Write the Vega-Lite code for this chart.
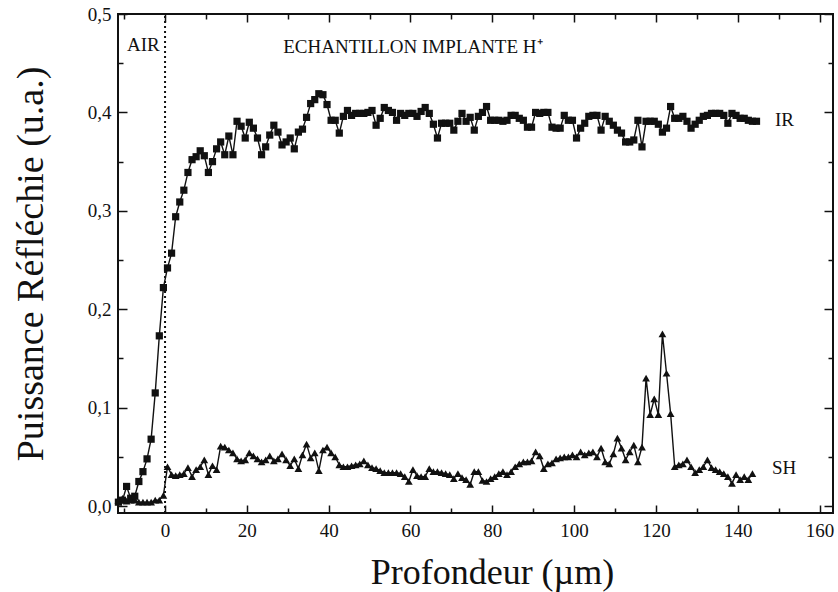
{
  "$schema": "https://vega.github.io/schema/vega-lite/v6.json",
  "width": 715,
  "height": 499,
  "autosize": "none",
  "padding": {"left": 118, "top": 14, "right": 5, "bottom": 79},
  "background": "white",
  "config": {
    "view": {"stroke": "#111", "strokeWidth": 2},
    "font": "'Liberation Serif', 'Times New Roman', Times, serif",
    "axis": {"grid": false, "domain": false, "tickColor": "#111", "tickWidth": 1.5, "labelColor": "#111", "titleColor": "#111", "labelFont": "'Liberation Serif', 'Times New Roman', Times, serif", "titleFont": "'Liberation Serif', 'Times New Roman', Times, serif", "titleFontWeight": "normal"}
  },
  "datasets": {
    "notes": [
      {"t": "AIR", "x": -9.3, "y": 0.469},
      {"t": "ECHANTILLON IMPLANTE H⁺", "x": 28.9, "y": 0.466},
      {"t": "IR", "x": 149.1, "y": 0.392},
      {"t": "SH", "x": 148.4, "y": 0.039}
    ],
    "sep": [{"x": 0, "ylo": -0.007, "yhi": 0.5}],
    "pts": [
      {"s":"IR","x":-11.4,"y":0.004},{"s":"IR","x":-10.4,"y":0.006},{"s":"IR","x":-9.4,"y":0.020},{"s":"IR","x":-8.4,"y":0.008},{"s":"IR","x":-7.4,"y":0.010},{"s":"IR","x":-6.4,"y":0.025},{"s":"IR","x":-5.4,"y":0.035},{"s":"IR","x":-4.4,"y":0.048},{"s":"IR","x":-3.4,"y":0.068},{"s":"IR","x":-2.4,"y":0.115},{"s":"IR","x":-1.4,"y":0.173},{"s":"IR","x":-0.4,"y":0.222},{"s":"IR","x":0.6,"y":0.242},{"s":"IR","x":1.6,"y":0.257},{"s":"IR","x":2.6,"y":0.294},{"s":"IR","x":3.6,"y":0.309},{"s":"IR","x":4.6,"y":0.321},{"s":"IR","x":5.6,"y":0.339},{"s":"IR","x":6.6,"y":0.352},{"s":"IR","x":7.6,"y":0.355},{"s":"IR","x":8.6,"y":0.361},{"s":"IR","x":9.6,"y":0.356},{"s":"IR","x":10.6,"y":0.339},{"s":"IR","x":11.6,"y":0.350},{"s":"IR","x":12.6,"y":0.363},{"s":"IR","x":13.6,"y":0.370},{"s":"IR","x":14.6,"y":0.357},{"s":"IR","x":15.6,"y":0.376},{"s":"IR","x":16.6,"y":0.357},{"s":"IR","x":17.6,"y":0.391},{"s":"IR","x":18.6,"y":0.386},{"s":"IR","x":19.6,"y":0.374},{"s":"IR","x":20.6,"y":0.390},{"s":"IR","x":21.6,"y":0.384},{"s":"IR","x":22.6,"y":0.374},{"s":"IR","x":23.6,"y":0.357},{"s":"IR","x":24.6,"y":0.365},{"s":"IR","x":25.6,"y":0.377},{"s":"IR","x":26.6,"y":0.387},{"s":"IR","x":27.6,"y":0.380},{"s":"IR","x":28.6,"y":0.367},{"s":"IR","x":29.6,"y":0.370},{"s":"IR","x":30.6,"y":0.374},{"s":"IR","x":31.6,"y":0.363},{"s":"IR","x":32.6,"y":0.380},{"s":"IR","x":33.6,"y":0.383},{"s":"IR","x":34.6,"y":0.395},{"s":"IR","x":35.6,"y":0.409},{"s":"IR","x":36.6,"y":0.413},{"s":"IR","x":37.6,"y":0.419},{"s":"IR","x":38.6,"y":0.418},{"s":"IR","x":39.6,"y":0.408},{"s":"IR","x":40.6,"y":0.392},{"s":"IR","x":41.6,"y":0.392},{"s":"IR","x":42.6,"y":0.379},{"s":"IR","x":43.6,"y":0.396},{"s":"IR","x":44.6,"y":0.402},{"s":"IR","x":45.6,"y":0.397},{"s":"IR","x":46.6,"y":0.399},{"s":"IR","x":47.6,"y":0.399},{"s":"IR","x":48.6,"y":0.399},{"s":"IR","x":49.6,"y":0.400},{"s":"IR","x":50.6,"y":0.402},{"s":"IR","x":51.6,"y":0.387},{"s":"IR","x":52.6,"y":0.394},{"s":"IR","x":53.6,"y":0.405},{"s":"IR","x":54.6,"y":0.402},{"s":"IR","x":55.6,"y":0.400},{"s":"IR","x":56.6,"y":0.392},{"s":"IR","x":57.6,"y":0.399},{"s":"IR","x":58.6,"y":0.397},{"s":"IR","x":59.6,"y":0.399},{"s":"IR","x":60.6,"y":0.399},{"s":"IR","x":61.6,"y":0.396},{"s":"IR","x":62.6,"y":0.401},{"s":"IR","x":63.6,"y":0.405},{"s":"IR","x":64.6,"y":0.399},{"s":"IR","x":65.6,"y":0.388},{"s":"IR","x":66.6,"y":0.374},{"s":"IR","x":67.6,"y":0.389},{"s":"IR","x":68.6,"y":0.389},{"s":"IR","x":69.6,"y":0.389},{"s":"IR","x":70.6,"y":0.382},{"s":"IR","x":71.6,"y":0.391},{"s":"IR","x":72.6,"y":0.399},{"s":"IR","x":73.6,"y":0.391},{"s":"IR","x":74.6,"y":0.395},{"s":"IR","x":75.6,"y":0.382},{"s":"IR","x":76.6,"y":0.396},{"s":"IR","x":77.6,"y":0.400},{"s":"IR","x":78.6,"y":0.406},{"s":"IR","x":79.6,"y":0.392},{"s":"IR","x":80.6,"y":0.392},{"s":"IR","x":81.6,"y":0.392},{"s":"IR","x":82.6,"y":0.391},{"s":"IR","x":83.6,"y":0.392},{"s":"IR","x":84.6,"y":0.397},{"s":"IR","x":85.6,"y":0.397},{"s":"IR","x":86.6,"y":0.394},{"s":"IR","x":87.6,"y":0.392},{"s":"IR","x":88.6,"y":0.385},{"s":"IR","x":89.6,"y":0.385},{"s":"IR","x":90.6,"y":0.400},{"s":"IR","x":91.6,"y":0.399},{"s":"IR","x":92.6,"y":0.400},{"s":"IR","x":93.6,"y":0.400},{"s":"IR","x":94.6,"y":0.385},{"s":"IR","x":95.6,"y":0.384},{"s":"IR","x":96.6,"y":0.384},{"s":"IR","x":97.6,"y":0.397},{"s":"IR","x":98.6,"y":0.392},{"s":"IR","x":99.6,"y":0.392},{"s":"IR","x":100.6,"y":0.374},{"s":"IR","x":101.6,"y":0.384},{"s":"IR","x":102.6,"y":0.389},{"s":"IR","x":103.6,"y":0.396},{"s":"IR","x":104.6,"y":0.397},{"s":"IR","x":105.6,"y":0.397},{"s":"IR","x":106.6,"y":0.382},{"s":"IR","x":107.6,"y":0.396},{"s":"IR","x":108.6,"y":0.391},{"s":"IR","x":109.6,"y":0.387},{"s":"IR","x":110.6,"y":0.382},{"s":"IR","x":111.6,"y":0.379},{"s":"IR","x":112.6,"y":0.370},{"s":"IR","x":113.6,"y":0.370},{"s":"IR","x":114.6,"y":0.372},{"s":"IR","x":115.6,"y":0.392},{"s":"IR","x":116.6,"y":0.365},{"s":"IR","x":117.6,"y":0.391},{"s":"IR","x":118.6,"y":0.391},{"s":"IR","x":119.6,"y":0.391},{"s":"IR","x":120.6,"y":0.388},{"s":"IR","x":121.6,"y":0.380},{"s":"IR","x":122.6,"y":0.384},{"s":"IR","x":123.6,"y":0.406},{"s":"IR","x":124.6,"y":0.394},{"s":"IR","x":125.6,"y":0.394},{"s":"IR","x":126.6,"y":0.396},{"s":"IR","x":127.6,"y":0.391},{"s":"IR","x":128.6,"y":0.384},{"s":"IR","x":129.6,"y":0.388},{"s":"IR","x":130.6,"y":0.392},{"s":"IR","x":131.6,"y":0.396},{"s":"IR","x":132.6,"y":0.397},{"s":"IR","x":133.6,"y":0.399},{"s":"IR","x":134.6,"y":0.399},{"s":"IR","x":135.6,"y":0.399},{"s":"IR","x":136.6,"y":0.397},{"s":"IR","x":137.6,"y":0.389},{"s":"IR","x":138.6,"y":0.399},{"s":"IR","x":139.6,"y":0.397},{"s":"IR","x":140.6,"y":0.394},{"s":"IR","x":141.6,"y":0.394},{"s":"IR","x":142.6,"y":0.392},{"s":"IR","x":143.6,"y":0.391},{"s":"IR","x":144.6,"y":0.391},
      {"s":"SH","x":-11.4,"y":0.006},{"s":"SH","x":-10.4,"y":0.008},{"s":"SH","x":-9.4,"y":0.005},{"s":"SH","x":-8.4,"y":0.006},{"s":"SH","x":-7.4,"y":0.006},{"s":"SH","x":-6.4,"y":0.004},{"s":"SH","x":-5.4,"y":0.004},{"s":"SH","x":-4.4,"y":0.004},{"s":"SH","x":-3.4,"y":0.004},{"s":"SH","x":-2.4,"y":0.006},{"s":"SH","x":-1.4,"y":0.006},{"s":"SH","x":-0.4,"y":0.011},{"s":"SH","x":0.6,"y":0.040},{"s":"SH","x":1.6,"y":0.032},{"s":"SH","x":2.6,"y":0.031},{"s":"SH","x":3.6,"y":0.032},{"s":"SH","x":4.6,"y":0.033},{"s":"SH","x":5.6,"y":0.039},{"s":"SH","x":6.6,"y":0.030},{"s":"SH","x":7.6,"y":0.037},{"s":"SH","x":8.6,"y":0.040},{"s":"SH","x":9.6,"y":0.047},{"s":"SH","x":10.6,"y":0.032},{"s":"SH","x":11.6,"y":0.041},{"s":"SH","x":12.6,"y":0.037},{"s":"SH","x":13.6,"y":0.061},{"s":"SH","x":14.6,"y":0.060},{"s":"SH","x":15.6,"y":0.057},{"s":"SH","x":16.6,"y":0.054},{"s":"SH","x":17.6,"y":0.048},{"s":"SH","x":18.6,"y":0.046},{"s":"SH","x":19.6,"y":0.047},{"s":"SH","x":20.6,"y":0.054},{"s":"SH","x":21.6,"y":0.051},{"s":"SH","x":22.6,"y":0.048},{"s":"SH","x":23.6,"y":0.045},{"s":"SH","x":24.6,"y":0.047},{"s":"SH","x":25.6,"y":0.051},{"s":"SH","x":26.6,"y":0.046},{"s":"SH","x":27.6,"y":0.048},{"s":"SH","x":28.6,"y":0.053},{"s":"SH","x":29.6,"y":0.047},{"s":"SH","x":30.6,"y":0.041},{"s":"SH","x":31.6,"y":0.048},{"s":"SH","x":32.6,"y":0.038},{"s":"SH","x":33.6,"y":0.052},{"s":"SH","x":34.6,"y":0.063},{"s":"SH","x":35.6,"y":0.049},{"s":"SH","x":36.6,"y":0.054},{"s":"SH","x":37.6,"y":0.036},{"s":"SH","x":38.6,"y":0.057},{"s":"SH","x":39.6,"y":0.060},{"s":"SH","x":40.6,"y":0.054},{"s":"SH","x":41.6,"y":0.050},{"s":"SH","x":42.6,"y":0.042},{"s":"SH","x":43.6,"y":0.040},{"s":"SH","x":44.6,"y":0.040},{"s":"SH","x":45.6,"y":0.041},{"s":"SH","x":46.6,"y":0.042},{"s":"SH","x":47.6,"y":0.043},{"s":"SH","x":48.6,"y":0.046},{"s":"SH","x":49.6,"y":0.042},{"s":"SH","x":50.6,"y":0.039},{"s":"SH","x":51.6,"y":0.038},{"s":"SH","x":52.6,"y":0.036},{"s":"SH","x":53.6,"y":0.034},{"s":"SH","x":54.6,"y":0.034},{"s":"SH","x":55.6,"y":0.034},{"s":"SH","x":56.6,"y":0.034},{"s":"SH","x":57.6,"y":0.033},{"s":"SH","x":58.6,"y":0.030},{"s":"SH","x":59.6,"y":0.025},{"s":"SH","x":60.6,"y":0.037},{"s":"SH","x":61.6,"y":0.031},{"s":"SH","x":62.6,"y":0.030},{"s":"SH","x":63.6,"y":0.030},{"s":"SH","x":64.6,"y":0.038},{"s":"SH","x":65.6,"y":0.035},{"s":"SH","x":66.6,"y":0.035},{"s":"SH","x":67.6,"y":0.034},{"s":"SH","x":68.6,"y":0.033},{"s":"SH","x":69.6,"y":0.032},{"s":"SH","x":70.6,"y":0.028},{"s":"SH","x":71.6,"y":0.033},{"s":"SH","x":72.6,"y":0.029},{"s":"SH","x":73.6,"y":0.027},{"s":"SH","x":74.6,"y":0.022},{"s":"SH","x":75.6,"y":0.035},{"s":"SH","x":76.6,"y":0.035},{"s":"SH","x":77.6,"y":0.026},{"s":"SH","x":78.6,"y":0.025},{"s":"SH","x":79.6,"y":0.028},{"s":"SH","x":80.6,"y":0.030},{"s":"SH","x":81.6,"y":0.033},{"s":"SH","x":82.6,"y":0.035},{"s":"SH","x":83.6,"y":0.032},{"s":"SH","x":84.6,"y":0.035},{"s":"SH","x":85.6,"y":0.040},{"s":"SH","x":86.6,"y":0.043},{"s":"SH","x":87.6,"y":0.045},{"s":"SH","x":88.6,"y":0.045},{"s":"SH","x":89.6,"y":0.046},{"s":"SH","x":90.6,"y":0.055},{"s":"SH","x":91.6,"y":0.051},{"s":"SH","x":92.6,"y":0.038},{"s":"SH","x":93.6,"y":0.043},{"s":"SH","x":94.6,"y":0.044},{"s":"SH","x":95.6,"y":0.048},{"s":"SH","x":96.6,"y":0.049},{"s":"SH","x":97.6,"y":0.050},{"s":"SH","x":98.6,"y":0.050},{"s":"SH","x":99.6,"y":0.052},{"s":"SH","x":100.6,"y":0.050},{"s":"SH","x":101.6,"y":0.055},{"s":"SH","x":102.6,"y":0.052},{"s":"SH","x":103.6,"y":0.054},{"s":"SH","x":104.6,"y":0.055},{"s":"SH","x":105.6,"y":0.050},{"s":"SH","x":106.6,"y":0.059},{"s":"SH","x":107.6,"y":0.045},{"s":"SH","x":108.6,"y":0.043},{"s":"SH","x":109.6,"y":0.053},{"s":"SH","x":110.6,"y":0.069},{"s":"SH","x":111.6,"y":0.059},{"s":"SH","x":112.6,"y":0.047},{"s":"SH","x":113.6,"y":0.055},{"s":"SH","x":114.6,"y":0.062},{"s":"SH","x":115.6,"y":0.045},{"s":"SH","x":116.6,"y":0.060},{"s":"SH","x":117.6,"y":0.130},{"s":"SH","x":118.6,"y":0.093},{"s":"SH","x":119.6,"y":0.109},{"s":"SH","x":120.6,"y":0.093},{"s":"SH","x":121.6,"y":0.175},{"s":"SH","x":122.6,"y":0.135},{"s":"SH","x":123.6,"y":0.094},{"s":"SH","x":124.6,"y":0.040},{"s":"SH","x":125.6,"y":0.042},{"s":"SH","x":126.6,"y":0.043},{"s":"SH","x":127.6,"y":0.047},{"s":"SH","x":128.6,"y":0.040},{"s":"SH","x":129.6,"y":0.034},{"s":"SH","x":130.6,"y":0.037},{"s":"SH","x":131.6,"y":0.040},{"s":"SH","x":132.6,"y":0.047},{"s":"SH","x":133.6,"y":0.039},{"s":"SH","x":134.6,"y":0.037},{"s":"SH","x":135.6,"y":0.035},{"s":"SH","x":136.6,"y":0.033},{"s":"SH","x":137.6,"y":0.030},{"s":"SH","x":138.6,"y":0.023},{"s":"SH","x":139.6,"y":0.032},{"s":"SH","x":140.6,"y":0.027},{"s":"SH","x":141.6,"y":0.030},{"s":"SH","x":142.6,"y":0.027},{"s":"SH","x":143.6,"y":0.033}
    ]
  },
  "layer": [
    {
      "data": {"name": "pts"},
      "mark": {"type": "line", "color": "#111", "strokeWidth": 1.4},
      "encoding": {
        "x": {"field": "x", "type": "quantitative", "scale": {"domain": [-11.5, 163.3], "nice": false, "zero": false},
              "axis": {"orient": "bottom", "values": [0,20,40,60,80,100,120,140,160], "ticks": false, "labelFontSize": 19, "labelPadding": 8, "labelFlush": false,
                       "title": "Profondeur (µm)", "titleFontSize": 36, "titleX": 374, "titleY": 70, "titleAlign": "center", "titleBaseline": "alphabetic"}},
        "y": {"field": "y", "type": "quantitative", "scale": {"domain": [-0.007, 0.5], "nice": false, "zero": false},
              "axis": {"orient": "left", "values": [0,0.1,0.2,0.3,0.4,0.5], "ticks": false, "labelFontSize": 19, "labelPadding": 7,
                       "labelExpr": "replace(format(datum.value, '.1f'), '.', ',')",
                       "title": "Puissance Réfléchie (u.a.)", "titleFontSize": 38, "titleAngle": 270, "titleX": -76, "titleY": 249.5, "titleAlign": "center", "titleBaseline": "alphabetic"}},
        "detail": {"field": "s"},
        "order": {"field": "x", "type": "quantitative"}
      }
    },
    {
      "data": {"name": "pts"},
      "transform": [{"filter": "datum.s === 'IR'"}],
      "mark": {"type": "point", "shape": "square", "filled": true, "color": "#111", "size": 52, "opacity": 1},
      "encoding": {
        "x": {"field": "x", "type": "quantitative", "axis": {"orient": "bottom", "values": [0,20,40,60,80,100,120,140,160], "labels": false, "title": null, "tickSize": -8}},
        "y": {"field": "y", "type": "quantitative", "axis": {"orient": "left", "values": [0,0.1,0.2,0.3,0.4,0.5], "labels": false, "title": null, "tickSize": -9}}
      }
    },
    {
      "data": {"name": "pts"},
      "transform": [{"filter": "datum.s === 'SH'"}],
      "mark": {"type": "point", "shape": "triangle-up", "filled": true, "color": "#111", "size": 60, "opacity": 1},
      "encoding": {
        "x": {"field": "x", "type": "quantitative", "axis": {"orient": "bottom", "values": [-10,10,30,50,70,90,110,130,150], "labels": false, "title": null, "tickSize": -5}},
        "y": {"field": "y", "type": "quantitative", "axis": {"orient": "left", "values": [0.05,0.15,0.25,0.35,0.45], "labels": false, "title": null, "tickSize": -5}}
      }
    },
    {
      "data": {"name": "notes"},
      "mark": {"type": "text", "align": "left", "baseline": "middle", "font": "'Liberation Serif', 'Times New Roman', Times, serif", "fontSize": 19, "color": "#111"},
      "encoding": {
        "x": {"field": "x", "type": "quantitative", "axis": {"orient": "top", "values": [0,20,40,60,80,100,120,140,160], "labels": false, "title": null, "tickSize": -8}},
        "y": {"field": "y", "type": "quantitative", "axis": {"orient": "right", "values": [0,0.1,0.2,0.3,0.4,0.5], "labels": false, "title": null, "tickSize": -9}},
        "text": {"field": "t"}
      }
    },
    {
      "data": {"name": "sep"},
      "mark": {"type": "rule", "color": "#111", "strokeWidth": 2, "strokeDash": [2, 3]},
      "encoding": {
        "x": {"field": "x", "type": "quantitative", "axis": {"orient": "top", "values": [-10,10,30,50,70,90,110,130,150], "labels": false, "title": null, "tickSize": -5}},
        "y": {"field": "ylo", "type": "quantitative", "axis": {"orient": "right", "values": [0.05,0.15,0.25,0.35,0.45], "labels": false, "title": null, "tickSize": -5}},
        "y2": {"field": "yhi"}
      }
    }
  ],
  "resolve": {"axis": {"x": "independent", "y": "independent"}}
}
